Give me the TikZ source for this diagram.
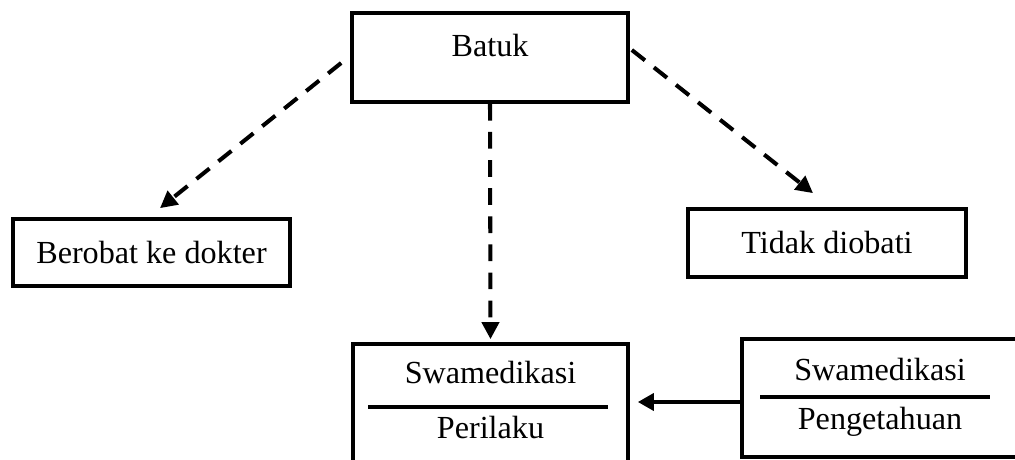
\documentclass[tikz,border=0pt]{standalone}
\usepackage{fontspec}
\setmainfont{Liberation Serif}
\usepackage{tikz}
\usetikzlibrary{arrows.meta}

\begin{document}
\begin{tikzpicture}[font=\fontsize{18.3}{22}\selectfont,
    box/.style={draw, line width=2.1pt, inner sep=0pt},
    dasharrow/.style={line width=2.3pt, dash pattern=on 9.5pt off 6.5pt, -{Triangle[length=0.34cm,width=0.34cm]}},
    solidarrow/.style={line width=2.1pt, -{Triangle[length=0.32cm,width=0.34cm]}}]
                \useasboundingbox (0,0) rectangle (20.3,9.18);
                \clip (0,0) rectangle (20.3,9.18);

                % Top
                \node[box, minimum width=5.52cm, text height=0.88cm, text depth=0.9cm] (batuk) at (9.8, 8.03) {Batuk};

                % Middle row
                \node[box, minimum width=5.54cm, minimum height=1.34cm] (berobat) at (3.03, 4.13) {Berobat ke dokter};
                \node[box, minimum width=5.56cm, minimum height=1.36cm] (tidak) at (16.54, 4.32) {Tidak diobati};

                % Bottom row
                \node[box, minimum width=5.5cm, minimum height=2.52cm] (perilaku) at (9.81, 1.04) {};
                \node[anchor=base] (perilakuA) at (9.81, 1.52) {Swamedikasi};
                \node[anchor=base] (perilakuB) at (9.81, 0.42) {Perilaku};
                \draw[line width=2.1pt] (7.36, 1.04) -- (12.16, 1.04);

                \node[box, minimum width=5.56cm, minimum height=2.36cm] (pengetahuan) at (17.62, 1.22) {};
                \node[anchor=base] (pengetahuanA) at (17.6, 1.58) {Swamedikasi};
                \node[anchor=base] (pengetahuanB) at (17.6, 0.6) {Pengetahuan};
                \draw[line width=2.1pt] (15.2, 1.24) -- (19.8, 1.24);

                % Connectors
                \draw[dasharrow] ([xshift=-0.18cm, yshift=-0.11cm]batuk.west) -- ([xshift=0.17cm, yshift=0.18cm]berobat.north);
                \draw[dasharrow] ([xshift=0.04cm, yshift=0.15cm]batuk.east) -- ([xshift=-0.28cm, yshift=0.28cm]tidak.north);
                \draw[dasharrow, shorten >=0.06cm] (batuk.south) -- (perilaku.north);
                \draw[solidarrow, shorten >=0.16cm] ([yshift=-0.08cm]pengetahuan.west) -- ([yshift=0.1cm]perilaku.east);
\end{tikzpicture}
\end{document}
